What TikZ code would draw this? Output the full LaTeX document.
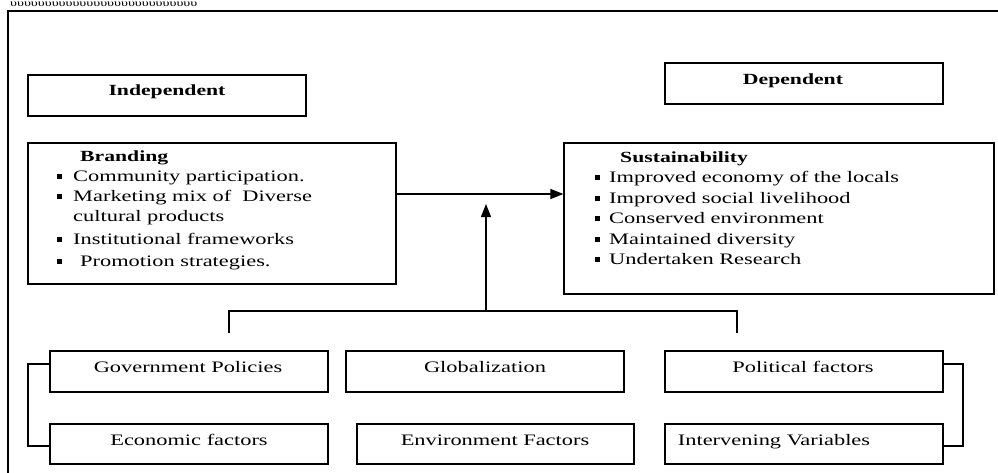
\documentclass[tikz,border=0pt]{standalone}
\usepackage{fontspec}
\setmainfont{Liberation Serif}[FakeStretch=1.4]
\usetikzlibrary{arrows.meta}
\begin{document}
\begin{tikzpicture}[x=1pt,y=-1pt,
  box/.style={draw, rectangle, inner sep=0pt, line width=1.3pt},
  txt/.style={anchor=base, inner sep=0pt, font=\fontsize{16}{18}\selectfont},
  ltxt/.style={anchor=base west, inner sep=0pt, font=\fontsize{16}{18}\selectfont},
  btxt/.style={anchor=base west, inner sep=0pt, font=\fontsize{15.5}{18}\selectfont\bfseries},
  bul/.style={fill, rectangle, inner sep=0pt, minimum width=5pt, minimum height=5pt},
  link/.style={line width=1.2pt},
  arr/.style={-{Triangle[length=13pt,width=10pt]}, line width=1.2pt}]
\useasboundingbox (0,0) rectangle (998,472);
% frame
\draw[link] (1000,11) -- (8,11) -- (8,476);
\node[anchor=base west, inner sep=0pt, font=\fontsize{10}{10}\selectfont] (garble) at (10,6) {υυυυυυυυυυυυυυυυυυυυυυυυυυυ};
% boxes
\node[box, minimum width=278pt, minimum height=41pt] (indep) at (167,95.5) {};
\node[box, minimum width=278pt, minimum height=41pt] (dep) at (804,83.5) {};
\node[box, minimum width=368pt, minimum height=141pt] (brand) at (212,213.5) {};
\node[box, minimum width=430pt, minimum height=151pt] (sust) at (779,218.5) {};
\node[box, minimum width=278pt, minimum height=41pt] (gov) at (189,371.5) {};
\node[box, minimum width=278pt, minimum height=41pt] (glob) at (485,371.5) {};
\node[box, minimum width=278pt, minimum height=41pt] (pol) at (804,371.5) {};
\node[box, minimum width=278pt, minimum height=40pt] (econ) at (189,444) {};
\node[box, minimum width=277pt, minimum height=40pt] (env) at (495.5,444) {};
\node[box, minimum width=278pt, minimum height=40pt] (interv) at (804,444) {};
% labels
\node[txt, font=\fontsize{15.5}{18}\selectfont\bfseries] (tindep) at (167,95) {Independent};
\node[txt, font=\fontsize{15.5}{18}\selectfont\bfseries] (tdep) at (793,84) {Dependent};
\node[btxt] (tbrand) at (80,161) {Branding};
\node[ltxt] (b1) at (73,181) {Community participation.};
\node[ltxt] (b2) at (73,201) {Marketing mix of \ Diverse};
\node[ltxt] (b3) at (73,221) {cultural products};
\node[ltxt] (b4) at (73,244) {Institutional frameworks};
\node[ltxt] (b5) at (80,266) {Promotion strategies.};
\node[bul] (u1) at (59.5,176) {};
\node[bul] (u2) at (59.5,196) {};
\node[bul] (u4) at (59.5,239) {};
\node[bul] (u5) at (59.5,261) {};
\node[btxt] (tsust) at (620,162) {Sustainability};
\node[ltxt] (s1) at (609,182.5) {Improved economy of the locals};
\node[ltxt] (s2) at (609,203) {Improved social livelihood};
\node[ltxt] (s3) at (609,223.5) {Conserved environment};
\node[ltxt] (s4) at (609,244) {Maintained diversity};
\node[ltxt] (s5) at (609,264.5) {Undertaken Research};
\node[bul] (v1) at (597,177.5) {};
\node[bul] (v2) at (597,198) {};
\node[bul] (v3) at (597,218.5) {};
\node[bul] (v4) at (597,239) {};
\node[bul] (v5) at (597,259.5) {};
\node[txt] (tgov) at (188,372) {Government Policies};
\node[txt] (tglob) at (485,372) {Globalization};
\node[txt] (tpol) at (803,372) {Political factors};
\node[txt] (tecon) at (189,445) {Economic factors};
\node[txt] (tenv) at (495,445) {Environment Factors};
\node[txt] (tinterv) at (774,445) {Intervening Variables};
% connectors
\coordinate (h) at (0,194);
\draw[arr] (brand.east |- h) -- (sust.west |- h);
\coordinate (bl) at (229,333);
\coordinate (tl) at (229,311);
\coordinate (tr) at (737,311);
\coordinate (br) at (737,333);
\coordinate (mid) at (486,311);
\coordinate (tip) at (486,204);
\draw[link] (bl) -- (tl) -- (tr) -- (br);
\draw[arr] (mid) -- (tip);
\draw[link] (gov.west |- 0,364) -- (28,364) -- (28,446) -- (econ.west |- 0,446);
\draw[link] (pol.east |- 0,364) -- (963,364) -- (963,446) -- (interv.east |- 0,446);
\end{tikzpicture}
\end{document}
